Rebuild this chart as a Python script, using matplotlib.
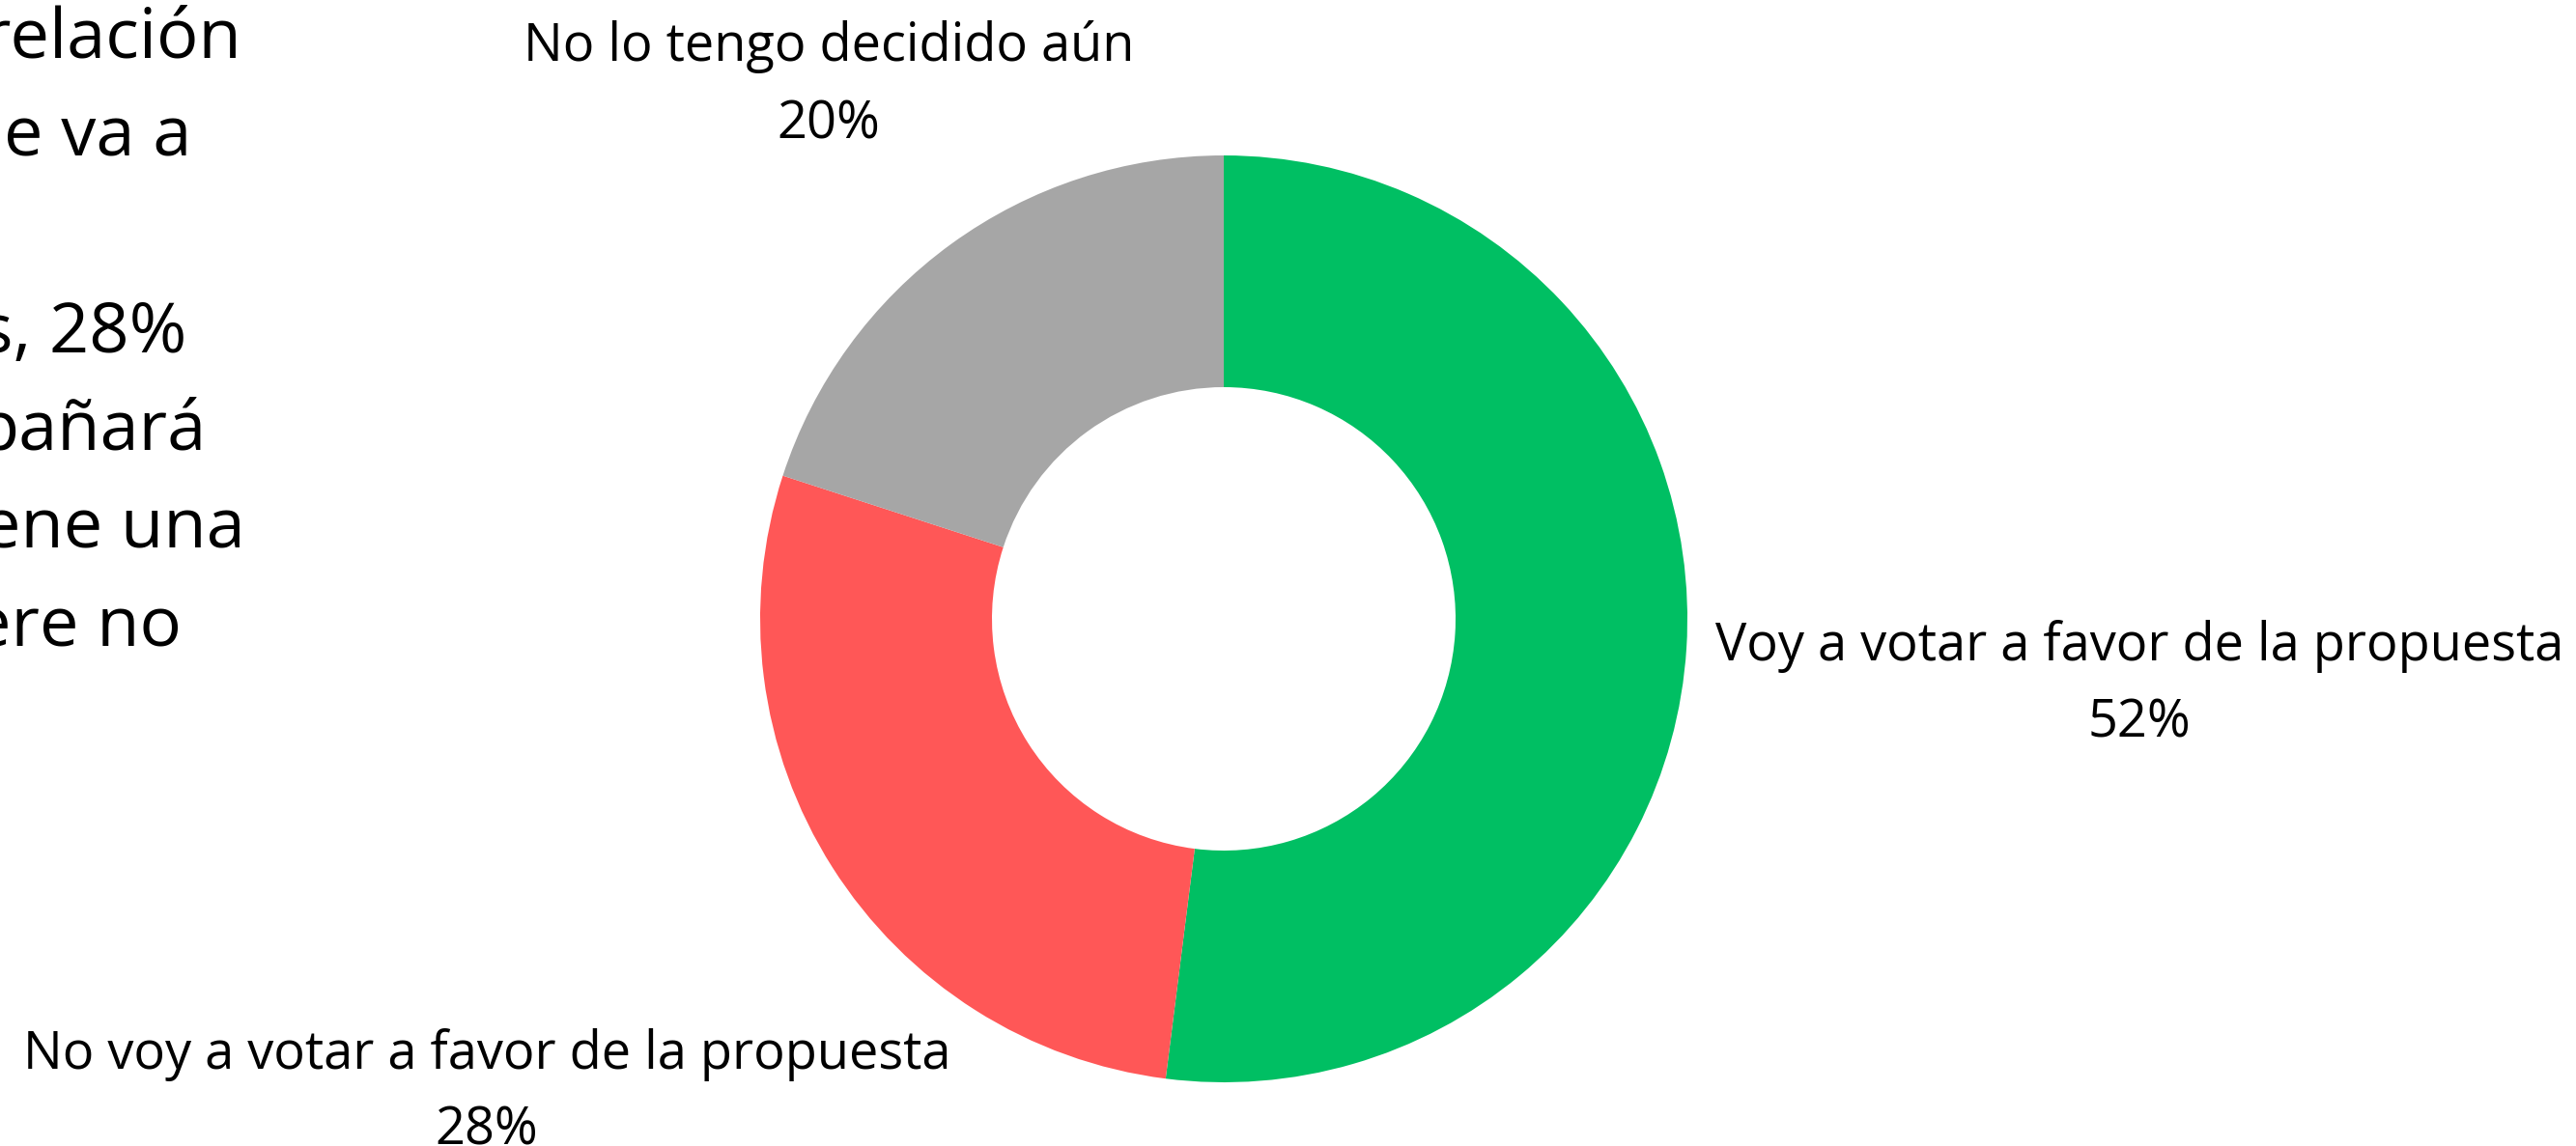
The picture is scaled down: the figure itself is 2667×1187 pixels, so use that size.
import matplotlib
matplotlib.use('Agg')
import matplotlib.pyplot as plt

plt.rcParams['font.family'] = ['Open Sans', 'DejaVu Sans']

# datos del grafico
categorias = ['Voy a votar a favor de la propuesta',
              'No voy a votar a favor de la propuesta',
              'No lo tengo decidido aún']
valores = [52, 28, 20]
colores = ['#00BF63', '#FF5757', '#A6A6A6']

# fragmento visible del texto de la izquierda (cortado por el borde)
texto_izq = ['relación', 'e va a', '', 's, 28%', 'pañará', 'ene una', 'ere no']
fin_izq = [251, 198, 0, 193, 214, 254, 188]

W, H = 2667, 1187
fig = plt.figure(figsize=(W / 100, H / 100), dpi=100)
ax = fig.add_axes([0, 0, 1, 1])

cx, cy, r = 1267, H - 641, 480
ax.pie(valores, colors=colores, startangle=90, counterclock=False,
       center=(cx, cy), radius=r,
       wedgeprops=dict(width=r * 0.5, linewidth=0))
ax.set_xlim(0, W)
ax.set_ylim(0, H)
ax.set_aspect('equal')
ax.axis('off')

# etiquetas (nombre y porcentaje)
pos_etiq = [(2215, 684, 764), (504, 1107, 1186), (858, 63, 143)]
for cat, val, (x, y1, y2) in zip(categorias, valores, pos_etiq):
    ax.text(x, H - y1, cat, ha='center', va='baseline', fontsize=39, color='black')
    ax.text(x, H - y2, '%d%%' % val, ha='center', va='baseline', fontsize=39, color='black')

# texto a la izquierda
y0, paso = 60, 101.6
for i, (linea, xr) in enumerate(zip(texto_izq, fin_izq)):
    if linea:
        ax.text(xr, H - (y0 + i * paso), linea, ha='right', va='baseline',
                fontsize=52, color='black')

fig.savefig('out.png', dpi=100, facecolor='white')
